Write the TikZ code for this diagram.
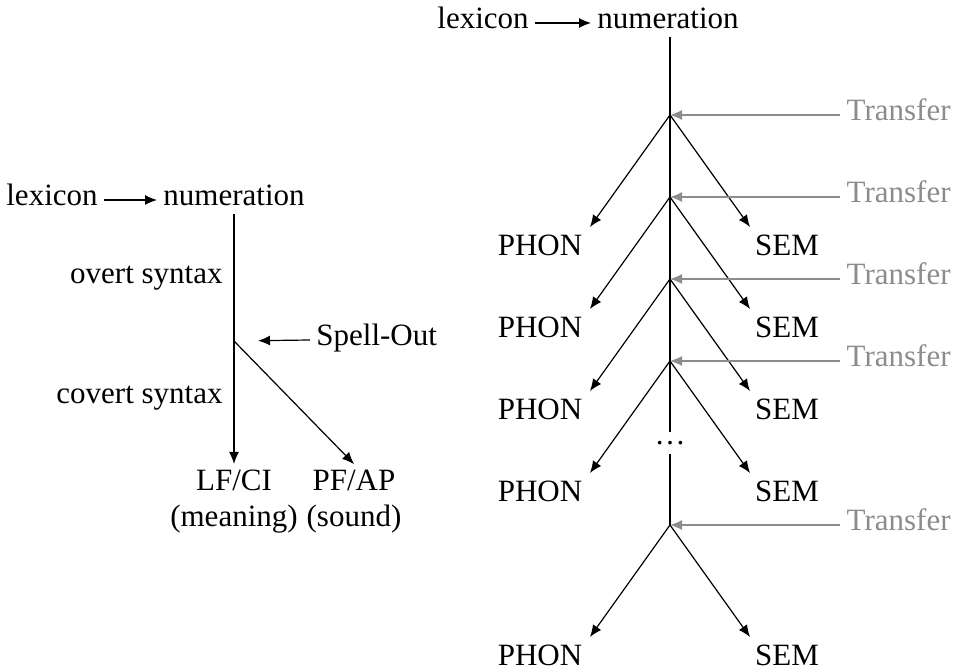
\documentclass[tikz,border=0pt]{standalone}
\usepackage{fontspec}
\setmainfont{Liberation Serif}
\usetikzlibrary{arrows.meta,positioning,calc}
\tikzset{%
  font=\fontsize{15.5}{18}\selectfont, >={Latex[length=6pt,width=5pt]},
  word/.style     = { inner sep=3pt, align=center, text height=1.5ex, text depth=.25ex },
  twoline/.style  = { inner sep=3pt, align=center },
  grayword/.style = { word, text=black!45 },
  line/.style     = { draw, line width=.6pt },
  grayline/.style = { draw=black!45, line width=.6pt, ->}
}

\begin{document}
\begin{tikzpicture}[x=0.5pt,y=-0.5pt]
	\useasboundingbox (0,0) rectangle (957,672);

	% left: overt/covert model
	\node[word] (lex) at (52,200) {lexicon};
	\node[word] (num) at (234,200) {numeration};
	\draw[line,->] (lex) -- (num);

	\coordinate (so) at (234,341);
	\node[word,anchor=east] (overt) at (229,278) {overt syntax};
	\node[word,anchor=east] (covert) at (229,398) {covert syntax};
	\node[word,anchor=west] (spell) at (310,340) {Spell-Out};

	\node[twoline] (lf) at (234,502) {LF/CI\\(meaning)};
	\node[twoline] (pf) at (354,502) {PF/AP\\(sound)};

	\draw[line] (num.south) -- (so);
	\draw[line,->] (so) -- (lf.north);
	\draw[line,->] (so) -- (pf.north);
	\draw[line,->,shorten >=12pt] (spell.west) -- (so);

	% right: phases with multiple Transfer
	\node[word] (lex2) at (483,23) {lexicon};
	\node[word] (num2) at (668,23) {numeration};
	\draw[line,->] (lex2) -- (num2);

	\node[inner sep=0pt,minimum height=10.5pt] (dots) at (670,443) {\dots};

	\foreach \i/\y in {1/115,2/197,3/279,4/361,5/525}{
		\coordinate (j\i) at (670,\y);
		\coordinate (tl\i) at (590,\y+112);
		\coordinate (tr\i) at (750,\y+112);
		\node[word] (phon\i) at (540,\y+135) {PHON};
		\node[word] (sem\i) at (787,\y+135) {SEM};
		\node[grayword,anchor=east] (transfer\i) at (957,\y) {Transfer};
		\draw[line,->] (j\i) -- (tl\i);
		\draw[line,->] (j\i) -- (tr\i);
		\draw[grayline] (transfer\i.west) -- (j\i);
	}

	\draw[line] (dots |- num2.south) -- (dots.north);
	\draw[line] (dots.south) -- (j5);
\end{tikzpicture}
\end{document}
